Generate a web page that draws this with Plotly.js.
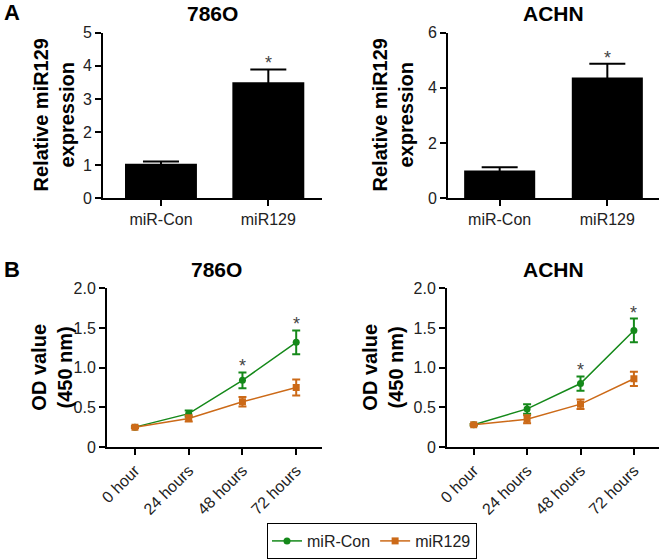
<!DOCTYPE html>
<html><head><meta charset="utf-8">
<script src="https://cdn.plot.ly/plotly-3.0.1.min.js"></script>
<style>body{margin:0;background:#fff}#c{width:662px;height:559px}</style>
</head><body><div id="c"></div>
<script>
// ---- data ----
const barCategories = ['miR-Con', 'miR129'];
const bar786O = [1.04, 3.50];
const bar786OErr = [0.07, 0.39];
const barACHN = [1.00, 4.38];
const barACHNErr = [0.12, 0.49];
const barSig = [false, true];

const timeLabels = ['0 hour', '24 hours', '48 hours', '72 hours'];
const od786OCon = [0.25, 0.42, 0.84, 1.32];
const od786OConErr = [0.01, 0.04, 0.10, 0.15];
const od786OMir = [0.25, 0.36, 0.57, 0.75];
const od786OMirErr = [0.01, 0.04, 0.06, 0.10];
const odACHNCon = [0.28, 0.48, 0.80, 1.47];
const odACHNConErr = [0.01, 0.06, 0.09, 0.15];
const odACHNMir = [0.28, 0.35, 0.54, 0.86];
const odACHNMirErr = [0.01, 0.05, 0.06, 0.09];
const lineSig = [false, false, true, true];

const W = 662, H = 559;
const px = v => v / W;
const py = (top, bottom) => [(H - bottom) / H, (H - top) / H];
const green = '#15891a', orange = '#cc6a18';
const FONT = 'Liberation Sans, Arial, sans-serif';

const idx2 = barCategories.map((_, i) => i);
const idx4 = timeLabels.map((_, i) => i);

const traces = [
  {type: 'bar', x: idx2, y: bar786O, xaxis: 'x', yaxis: 'y', marker: {color: '#000'}, width: 0.67,
   error_y: {type: 'data', array: bar786OErr, color: '#000', thickness: 2, width: 18}, showlegend: false},
  {type: 'bar', x: idx2, y: barACHN, xaxis: 'x2', yaxis: 'y2', marker: {color: '#000'}, width: 0.66,
   error_y: {type: 'data', array: barACHNErr, color: '#000', thickness: 2, width: 18}, showlegend: false},
  {type: 'scatter', mode: 'lines+markers', name: 'miR-Con', x: idx4, y: od786OCon, xaxis: 'x3', yaxis: 'y3',
   line: {color: green, width: 1.5}, marker: {color: green, symbol: 'circle', size: 7},
   error_y: {type: 'data', array: od786OConErr, color: green, thickness: 2, width: 4}, legendgroup: 'con'},
  {type: 'scatter', mode: 'lines+markers', name: 'miR129', x: idx4, y: od786OMir, xaxis: 'x3', yaxis: 'y3',
   line: {color: orange, width: 1.5}, marker: {color: orange, symbol: 'square', size: 7},
   error_y: {type: 'data', array: od786OMirErr, color: orange, thickness: 2, width: 4}, legendgroup: 'mir'},
  {type: 'scatter', mode: 'lines+markers', name: 'miR-Con', x: idx4, y: odACHNCon, xaxis: 'x4', yaxis: 'y4',
   line: {color: green, width: 1.5}, marker: {color: green, symbol: 'circle', size: 7},
   error_y: {type: 'data', array: odACHNConErr, color: green, thickness: 2, width: 4}, legendgroup: 'con', showlegend: false},
  {type: 'scatter', mode: 'lines+markers', name: 'miR129', x: idx4, y: odACHNMir, xaxis: 'x4', yaxis: 'y4',
   line: {color: orange, width: 1.5}, marker: {color: orange, symbol: 'square', size: 7},
   error_y: {type: 'data', array: odACHNMirErr, color: orange, thickness: 2, width: 4}, legendgroup: 'mir', showlegend: false}
];

function xax(domain, range, vals, text, angle) {
  return {domain: domain, range: range, tickvals: vals, ticktext: text, tickangle: angle,
    showline: true, linecolor: '#000', linewidth: 2, ticks: 'outside', ticklen: 6, tickwidth: 2, tickcolor: '#000',
    showgrid: false, zeroline: false, fixedrange: true, tickfont: {size: 16, color: '#222', family: FONT}, automargin: false};
}
function yax(domain, anchor, range, vals, text) {
  return {domain: domain, anchor: anchor, range: range, tickvals: vals, ticktext: text,
    showline: true, linecolor: '#000', linewidth: 2, ticks: 'outside', ticklen: 6, tickwidth: 2, tickcolor: '#000',
    showgrid: false, zeroline: false, fixedrange: true, tickfont: {size: 16, color: '#222', family: FONT}, automargin: false};
}

const layout = {
  width: W, height: H, margin: {l: 0, r: 0, t: 0, b: 0}, paper_bgcolor: '#fff', plot_bgcolor: '#fff',
  font: {family: FONT, color: '#000'},
  showlegend: true,
  legend: {orientation: 'h', x: px(267), y: (H - 528) / H, xanchor: 'left', yanchor: 'top',
    bordercolor: '#000', borderwidth: 1, font: {size: 16, color: '#222', family: FONT}, itemwidth: 30, tracegroupgap: 0},
  xaxis: Object.assign(xax([px(103), px(322)], [-0.54, 1.5], idx2, barCategories, 0), {anchor: 'y'}),
  yaxis: yax(py(33, 200), 'x', [0, 5], [0, 1, 2, 3, 4, 5], ['0', '1', '2', '3', '4', '5']),
  xaxis2: Object.assign(xax([px(448), px(659)], [-0.48, 1.48], idx2, barCategories, 0), {anchor: 'y2'}),
  yaxis2: yax(py(33, 200), 'x2', [0, 6], [0, 2, 4, 6], ['0', '2', '4', '6']),
  xaxis3: Object.assign(xax([px(107), px(322)], [-0.52, 3.48], idx4, timeLabels, -45), {anchor: 'y3'}),
  yaxis3: yax(py(291, 451), 'x3', [0, 2], [0, 0.5, 1, 1.5, 2], ['0', '0.5', '1.0', '1.5', '2.0']),
  xaxis4: Object.assign(xax([px(447), px(659)], [-0.5, 3.47], idx4, timeLabels, -45), {anchor: 'y4'}),
  yaxis4: yax(py(291, 451), 'x4', [0, 2], [0, 0.5, 1, 1.5, 2], ['0', '0.5', '1.0', '1.5', '2.0']),
  annotations: []
};

const ann = layout.annotations;
function label(text, x, y, size) {
  ann.push({text: text, xref: 'paper', yref: 'paper', x: px(x), y: (H - y) / H, xanchor: 'center', yanchor: 'middle',
    showarrow: false, font: {size: size, family: FONT, color: '#000', weight: 'bold'}});
}
function ytitle(text, x, top, bottom) {
  ann.push({text: text, xref: 'paper', yref: 'paper', x: px(x), y: (H - (top + bottom) / 2) / H, xanchor: 'center', yanchor: 'middle',
    textangle: -90, showarrow: false, font: {size: 20, family: FONT, color: '#000', weight: 'bold'}});
}
label('<b>A</b>', 12, 13, 22);
label('<b>B</b>', 12, 272, 22);
label('<b>786O</b>', 212, 14, 21);
label('<b>ACHN</b>', 553, 14, 21);
label('<b>786O</b>', 216, 272, 21);
label('<b>ACHN</b>', 553, 272, 21);
ytitle('<b>Relative miR129<br>expression</b>', 54, 33, 200);
ytitle('<b>Relative miR129<br>expression</b>', 393, 33, 200);
ytitle('<b>OD value<br>(450 nm)</b>', 52, 291, 451);
ytitle('<b>OD value<br>(450 nm)</b>', 383, 291, 451);

function stars(xr, yr, vals, errs, sig) {
  sig.forEach((s, i) => {
    if (!s) return;
    ann.push({text: '*', xref: xr, yref: yr, x: i, y: vals[i] + errs[i], yanchor: 'middle', yshift: 6,
      showarrow: false, font: {size: 18, family: FONT, color: '#444'}});
  });
}
stars('x', 'y', bar786O, bar786OErr, barSig);
stars('x2', 'y2', barACHN, barACHNErr, barSig);
stars('x3', 'y3', od786OCon, od786OConErr, lineSig);
stars('x4', 'y4', odACHNCon, odACHNConErr, lineSig);

Plotly.newPlot('c', traces, layout, {staticPlot: true, displayModeBar: false});
</script></body></html>
